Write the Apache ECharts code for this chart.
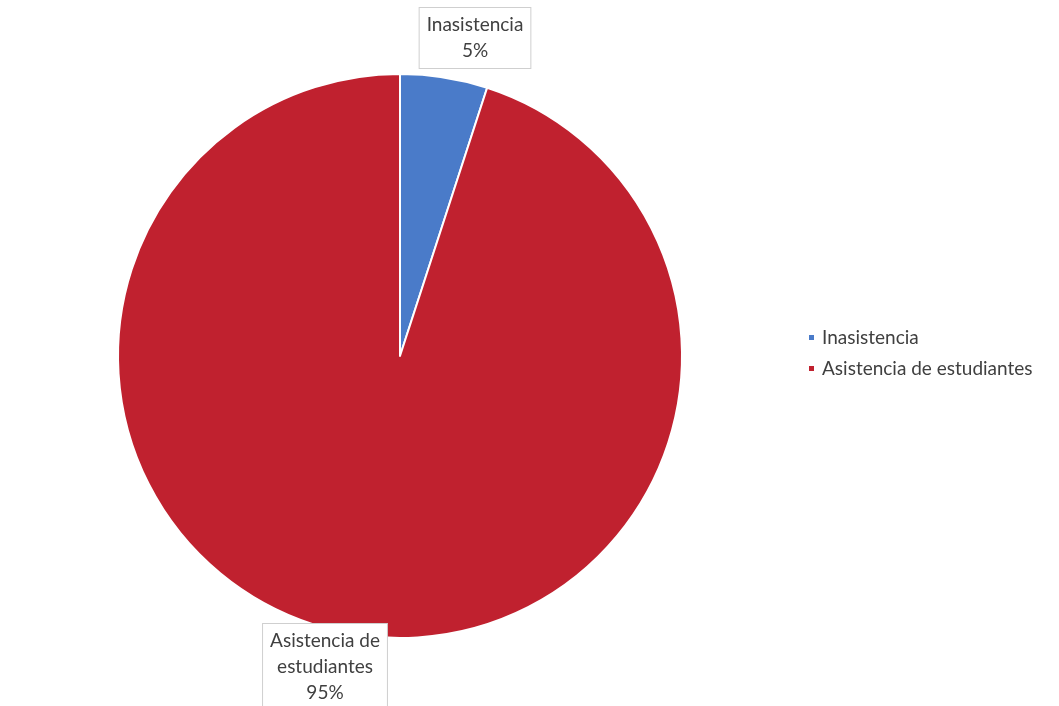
<!DOCTYPE html>
<html><head><meta charset="utf-8">
<script src="https://cdn.jsdelivr.net/npm/echarts@6/dist/echarts.min.js"></script>
<style>html,body{margin:0;padding:0;background:#fff}#c{width:1059px;height:706px}</style>
</head><body><div id="c"></div>
<script>
const categories = ['Inasistencia', 'Asistencia de estudiantes'];
const values = [5, 95];
const labelNames = ['Inasistencia', 'Asistencia de\nestudiantes'];
const colors = ['#4a7bc9', '#c0212f'];

const chart = echarts.init(document.getElementById('c'));
chart.setOption({
  animation: false,
  backgroundColor: '#fff',
  legend: {
    orient: 'vertical',
    left: 802, top: 'middle',
    itemWidth: 7, itemHeight: 7, icon: 'rect', itemGap: 12,
    textStyle: { fontFamily: 'Lato', fontSize: 19, color: '#404040', padding: [0, 0, 0, 2] },
    data: categories
  },
  series: [{
    type: 'pie',
    center: [400, 356],
    radius: 282,
    startAngle: 90,
    clockwise: true,
    itemStyle: { borderColor: '#fff', borderWidth: 2 },
    label: {
      show: true,
      formatter: p => labelNames[p.dataIndex] + '\n' + p.percent.toFixed(0) + '%',
      fontFamily: 'Lato', fontSize: 19, color: '#404040', lineHeight: 26,
      backgroundColor: '#fff', borderColor: '#cfcfcf', borderWidth: 1,
      padding: [4, 7, 4, 7], align: 'center'
    },
    labelLine: { show: false },
    labelLayout: function (p) {
      if (p.dataIndex === 0) return { x: 475, y: 38, align: 'center', verticalAlign: 'middle' };
      return { x: 325, y: 667, align: 'center', verticalAlign: 'middle' };
    },
    data: categories.map((c, i) => ({ name: c, value: values[i], itemStyle: { color: colors[i] } }))
  }]
});
</script></body></html>
